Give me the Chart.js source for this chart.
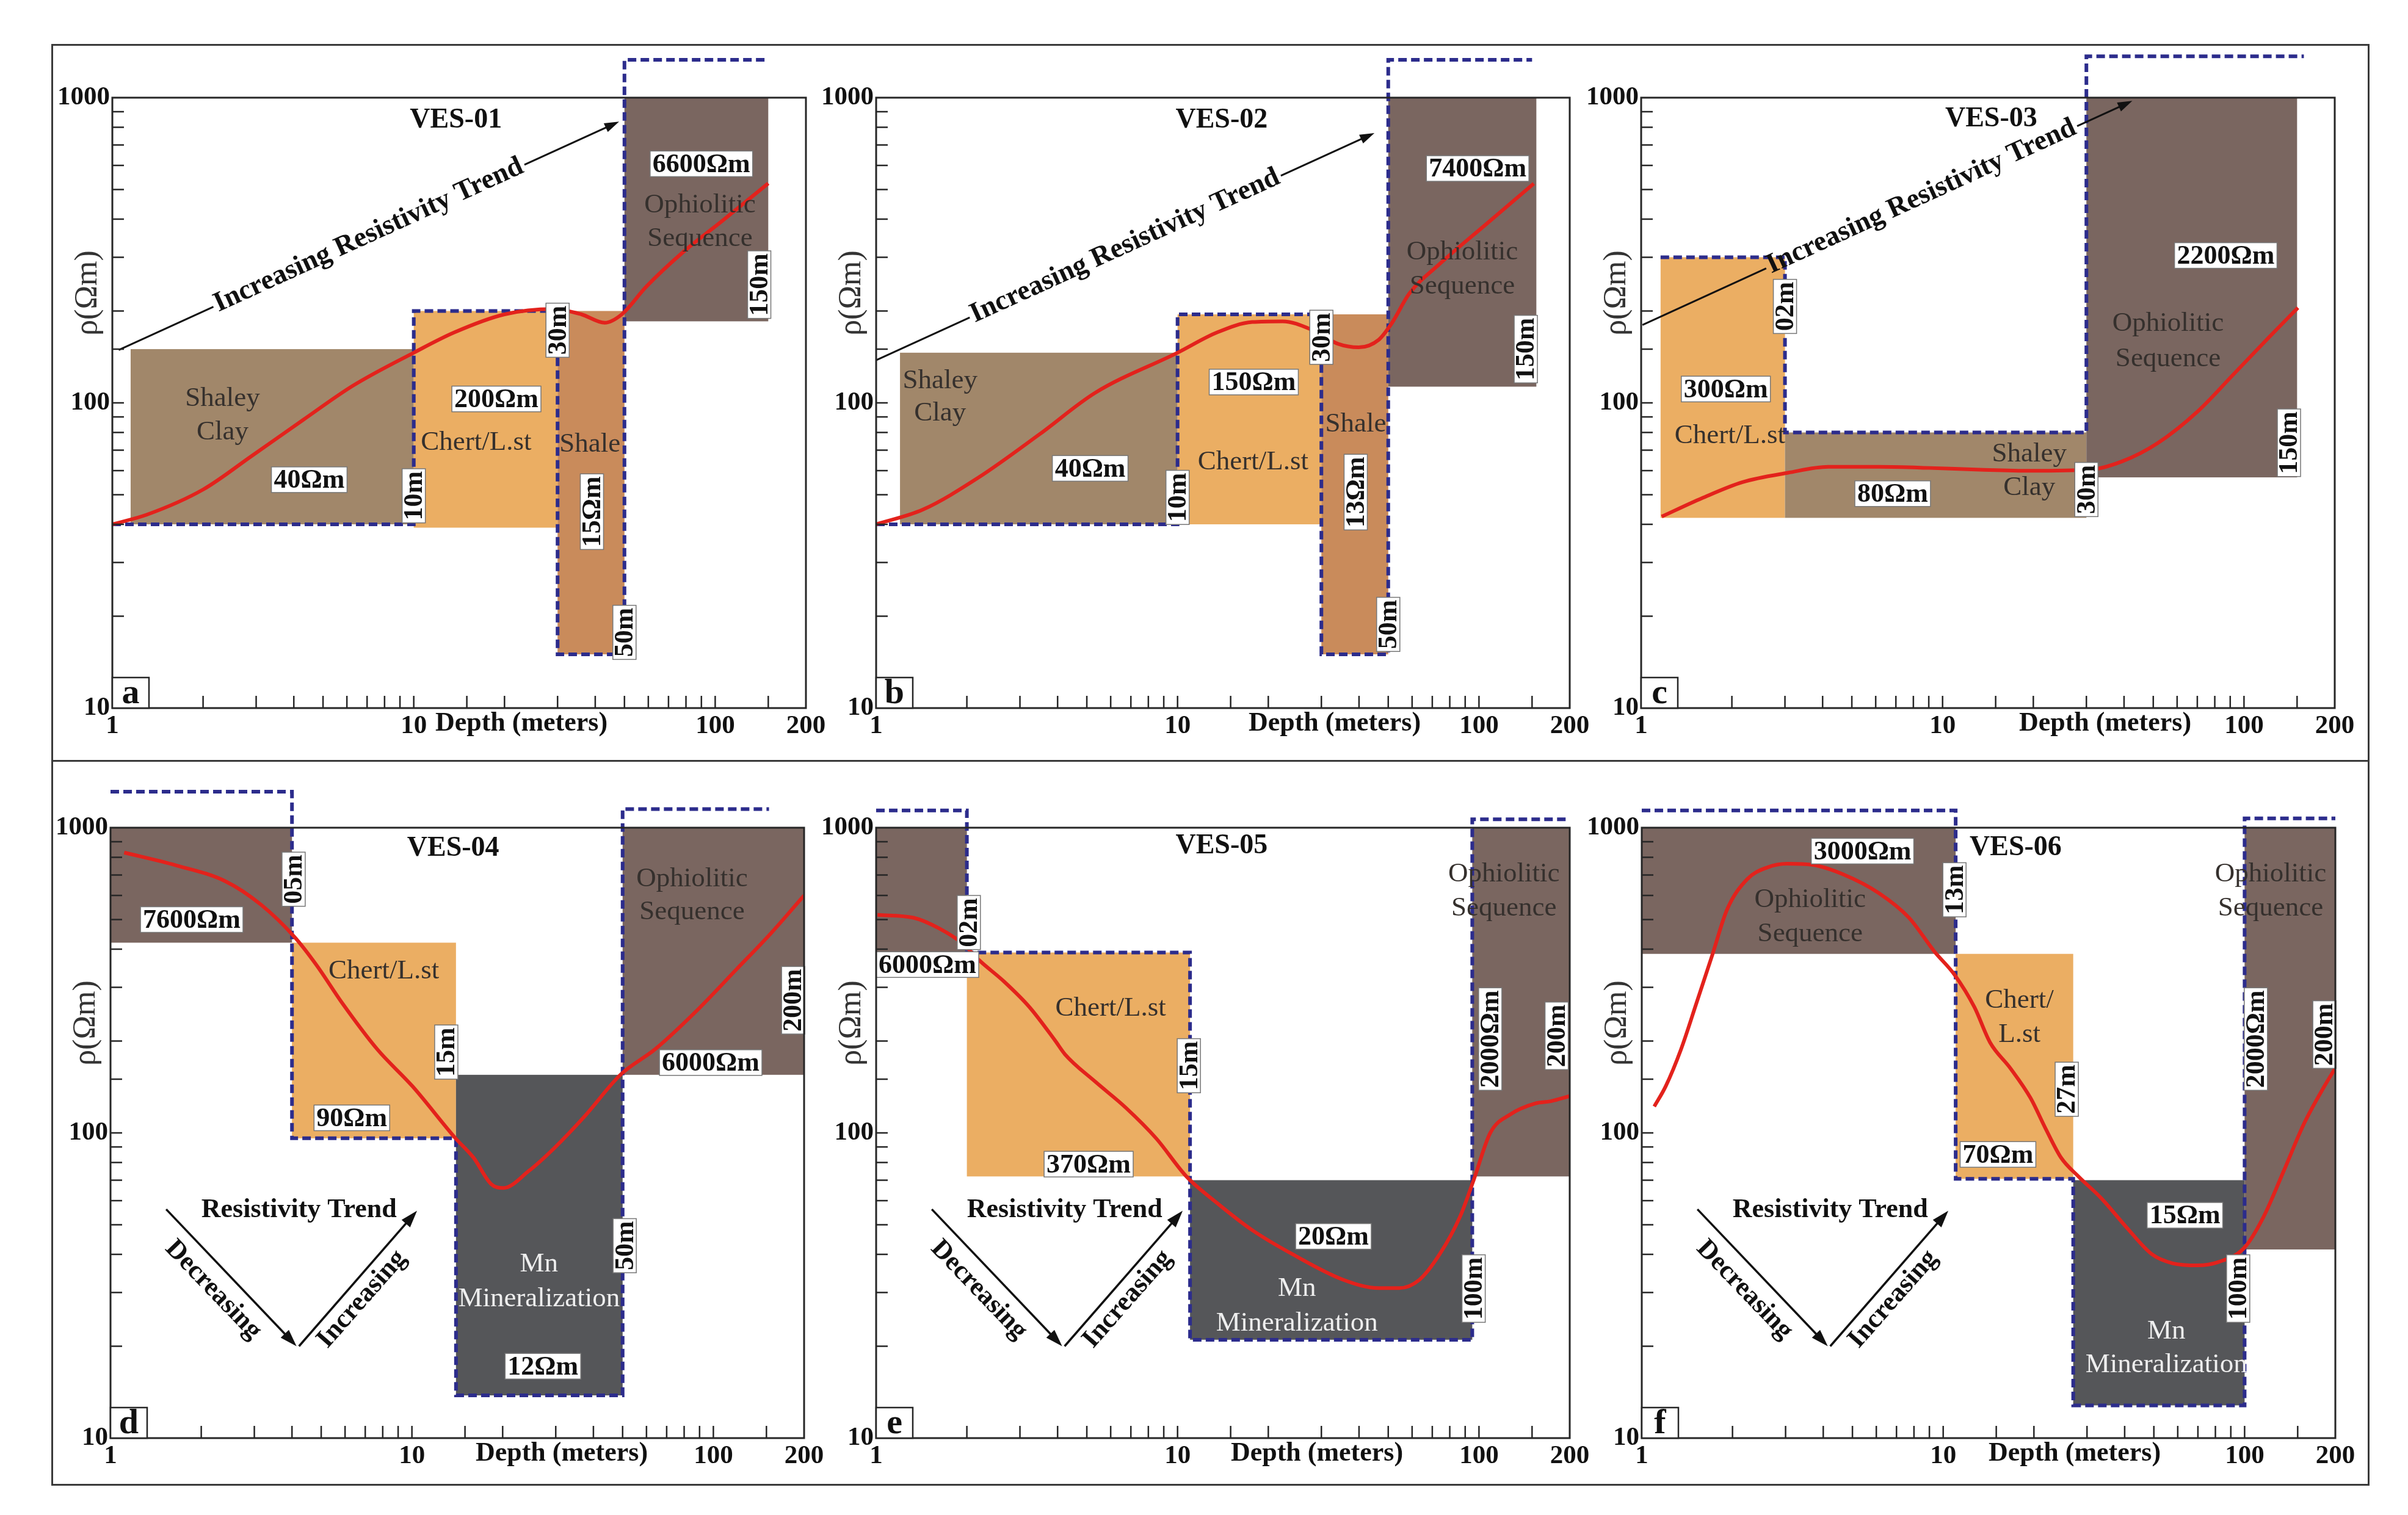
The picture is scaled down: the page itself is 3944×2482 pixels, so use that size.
<!DOCTYPE html>
<html>
<head>
<meta charset="utf-8">
<script src="https://cdn.jsdelivr.net/npm/chart.js@4.4.1/dist/chart.umd.min.js"></script>
<style>
  body { margin: 0; background: #fff; width: 3944px; height: 2482px; position: relative; overflow: hidden; }
  .frame { position: absolute; left: 84px; top: 72px; width: 3797px; height: 2362px; border: 3px solid #3a3a3a; box-sizing: border-box; }
  .sep { position: absolute; left: 84px; top: 1245px; width: 3797px; height: 3px; background: #3a3a3a; }
  .panel { position: absolute; }
</style>
</head>
<body>
<div class="frame"></div>
<div class="sep"></div>
<div class="panel" id="pa"><canvas></canvas></div>
<div class="panel" id="pb"><canvas></canvas></div>
<div class="panel" id="pc"><canvas></canvas></div>
<div class="panel" id="pd"><canvas></canvas></div>
<div class="panel" id="pe"><canvas></canvas></div>
<div class="panel" id="pf"><canvas></canvas></div>
<script>
// axis ticks
const depthTicks = [1, 10, 100, 200];
const rhoTicks = [10, 100, 1000];

// layers: [depth from, depth to, rho low, rho high, kind]
// VES-01
const ves01Depth = [1, 1.3, 2, 2.9, 4.3, 6.3, 10, 13.6, 20, 29, 36, 43, 49, 59, 78, 106, 150];
const ves01Rho = [40, 43, 52, 67, 88, 114, 146, 170, 195, 203, 195, 183, 195, 240, 311, 396, 524];
const ves01Layers = [[1.15, 10, 40, 150, 'clay'], [10, 30, 39, 200, 'chert'], [30, 50, 15, 200, 'shale'], [50, 150, 185, 1000, 'ophio']];
const ves01Bound = [[1, 40], [10, 40], [10, 200], [30, 200], [30, 15], [50, 15], [50, 1330], [150, 1330]];

// VES-02
const ves02Depth = [1, 1.43, 2.19, 3.49, 5.34, 10, 13.5, 17.7, 22.3, 28.1, 34.1, 39.9, 46.5, 51.3, 58.7, 74, 105, 152];
const ves02Rho = [40, 44.7, 57, 79, 108, 146, 170, 184, 185, 173, 156, 152, 161, 182, 228, 285, 383, 523];
const ves02Layers = [[1.2, 10, 40, 146, 'clay'], [10, 30, 40, 195, 'chert'], [30, 50, 15, 195, 'shale'], [50, 155, 113, 1000, 'ophio']];
const ves02Bound = [[1, 40], [10, 40], [10, 195], [30, 195], [30, 15], [50, 15], [50, 1330], [150, 1330]];

// VES-03
const ves03Depth = [1.17, 1.59, 2.17, 3.07, 4.18, 6.16, 9.06, 13.3, 19.6, 30.7, 39.4, 51.7, 70.4, 92.3, 121, 151];
const ves03Rho = [42.4, 48.7, 55, 59, 61.7, 61.7, 61.2, 60.4, 59.9, 60.4, 64.3, 73.8, 94, 124, 164, 205];
const ves03Layers = [[1.16, 3, 42, 300, 'chert'], [3, 30, 42, 80, 'clay'], [30, 150, 57, 1000, 'ophio']];
const ves03Bound = [[1.16, 300], [3, 300], [3, 80], [30, 80], [30, 1366], [158, 1366]];

// VES-04
const ves04Depth = [1.11, 1.64, 2.41, 3.16, 4.09, 4.83, 5.86, 7.67, 10.05, 13.95, 16, 18.3, 20.1, 24.4, 29.6, 37.3, 49.5, 64.1, 87.2, 118.8, 155.6, 200];
const ves04Rho = [829, 754, 667, 559, 437, 354, 267, 188, 142, 96, 83, 68, 66, 75, 89, 113, 156, 188, 249, 342, 452, 600];
const ves04Layers = [[1, 4, 420, 1000, 'ophio'], [4, 14, 96, 420, 'chert'], [14, 50, 13.8, 155, 'mn'], [50, 200, 155, 1000, 'ophio']];
const ves04Bound = [[1, 1312], [4, 1312], [4, 96], [14, 96], [14, 13.8], [50, 13.8], [50, 1151], [153, 1151]];

// VES-05
const ves05Depth = [1.01, 1.33, 1.61, 1.95, 2.19, 2.66, 3.23, 3.92, 4.23, 5.34, 6.73, 8.49, 10.7, 13.5, 17.7, 24.1, 35.5, 46.5, 54.3, 63.4, 74, 86.4, 96, 109, 127, 154, 173, 200];
const ves05Rho = [518, 507, 469, 415, 369, 313, 258, 201, 181, 147, 121, 96, 72, 59, 48, 40, 33, 31, 31, 33, 40, 53, 70, 100, 115, 125, 127, 132];
const ves05Layers = [[1, 2, 390, 1000, 'ophio'], [2, 11, 72, 390, 'chert'], [11, 95, 21, 70, 'mn'], [95, 200, 72, 1000, 'ophio']];
const ves05Bound = [[1, 1139], [2, 1139], [2, 390], [11, 390], [11, 21], [95, 21], [95, 1065], [200, 1065]];

// VES-06
const ves06Depth = [1.1, 1.2, 1.35, 1.52, 1.71, 1.92, 2.24, 2.61, 3.04, 3.7, 4.66, 6.11, 7.7, 9.35, 10.9, 12.7, 14.3, 16.7, 19.5, 21.9, 24.6, 28.1, 33.5, 40.6, 49.3, 57.6, 69.8, 81.5, 99.7, 115.5, 134.8, 157.3, 183.8, 200];
const ves06Rho = [122, 142, 188, 267, 380, 540, 679, 741, 762, 755, 703, 611, 507, 393, 330, 258, 198, 163, 130, 103, 83, 72, 61, 49, 40, 37.4, 36.8, 37.7, 42, 53, 75, 107, 142, 163];
const ves06Layers = [[1, 11, 386, 1000, 'ophio'], [11, 27, 70.7, 386, 'chert'], [27, 100, 12.8, 70, 'mn'], [100, 200, 41.5, 1000, 'ophio']];
const ves06Bound = [[1, 1139], [11, 1139], [11, 70.7], [27, 70.7], [27, 12.8], [100, 12.8], [100, 1073], [200, 1073]];

// annotations: [text, depth, rho, kind]
const ves01Notes = [
  ['VES-01', 13.8, 841, 'title'], ['6600Ωm', 90, 607, 'val'], ['Ophiolitic', 89, 444, 'name'], ['Sequence', 89, 345, 'name'],
  ['150m', 140, 244, 'vert'], ['Shaley', 2.32, 103, 'name'], ['Clay', 2.32, 80, 'name'], ['40Ωm', 4.5, 56, 'val'],
  ['10m', 10, 49.6, 'vert'], ['200Ωm', 18.8, 103, 'val'], ['Chert/L.st', 16.1, 74, 'name'], ['30m', 30, 173, 'vert'],
  ['Shale', 38.4, 73, 'name'], ['15Ωm', 39, 44, 'vert'], ['50m', 50, 17.7, 'vert']
];
const ves02Notes = [
  ['VES-02', 14, 841, 'title'], ['7400Ωm', 99, 586, 'val'], ['Ophiolitic', 88, 311, 'name'], ['Sequence', 88, 241, 'name'],
  ['150m', 143, 150, 'vert'], ['Shaley', 1.63, 118, 'name'], ['Clay', 1.63, 92.5, 'name'], ['40Ωm', 5.13, 61, 'val'],
  ['10m', 10, 49, 'vert'], ['150Ωm', 17.9, 117, 'val'], ['Chert/L.st', 17.8, 64, 'name'], ['30m', 30, 164, 'vert'],
  ['Shale', 39, 85, 'name'], ['13Ωm', 39, 51, 'vert'], ['50m', 50, 18.8, 'vert']
];
const ves03Notes = [
  ['VES-03', 14.5, 850, 'title'], ['2200Ωm', 87, 304, 'val'], ['Ophiolitic', 56, 182, 'name'], ['Sequence', 56, 139, 'name'],
  ['150m', 141, 74, 'vert'], ['300Ωm', 1.91, 111, 'val'], ['Chert/L.st', 1.97, 78, 'name'], ['02m', 3, 207, 'vert'],
  ['80Ωm', 6.83, 50.4, 'val'], ['Shaley', 19.4, 68, 'name'], ['Clay', 19.4, 52.6, 'name'], ['30m', 30, 52, 'vert']
];
const ves04Notes = [
  ['VES-04', 13.7, 853, 'title'], ['7600Ωm', 1.86, 500, 'val'], ['05m', 4.05, 678, 'vert'], ['Chert/L.st', 8.07, 338, 'name'],
  ['15m', 13, 184, 'vert'], ['90Ωm', 6.32, 112, 'val'], ['Ophiolitic', 85, 678, 'name'], ['Sequence', 85, 530, 'name'],
  ['200m', 184, 272, 'vert'], ['6000Ωm', 98, 170, 'val'], ['50m', 50.8, 42.7, 'vert'], ['Mn', 26.4, 37.1, 'nameW'],
  ['Mineralization', 26.4, 28.5, 'nameW'], ['12Ωm', 27.2, 17.2, 'val']
];
const ves05Notes = [
  ['VES-05', 14, 869, 'title'], ['6000Ωm', 1.48, 356, 'val'], ['02m', 2.03, 489, 'vert'], ['Chert/L.st', 6, 256, 'name'],
  ['15m', 10.9, 166, 'vert'], ['370Ωm', 5.07, 79, 'val'], ['Ophiolitic', 121, 703, 'name'], ['Sequence', 121, 543, 'name'],
  ['2000Ωm', 109, 203, 'vert'], ['200m', 181, 208, 'vert'], ['20Ωm', 32.9, 45.8, 'val'], ['Mn', 24.9, 30.9, 'nameW'],
  ['Mineralization', 24.9, 23.7, 'nameW'], ['100m', 96, 30.9, 'vert']
];
const ves06Notes = [
  ['VES-06', 17.4, 859, 'title'], ['3000Ωm', 5.4, 838, 'val'], ['Ophiolitic', 3.62, 579, 'name'], ['Sequence', 3.62, 448, 'name'],
  ['13m', 10.9, 626, 'vert'], ['Chert/', 17.9, 272, 'name'], ['L.st', 17.9, 210, 'name'], ['27m', 25.7, 139, 'vert'],
  ['70Ωm', 15.2, 85, 'val'], ['15Ωm', 63.4, 53.7, 'val'], ['100m', 95.2, 30.9, 'vert'], ['Mn', 55, 22.4, 'nameW'],
  ['Mineralization', 55, 17.4, 'nameW'], ['Ophiolitic', 122, 703, 'name'], ['Sequence', 122, 543, 'name'],
  ['2000Ωm', 109, 203, 'vert'], ['200m', 184, 210, 'vert']
];

// "Increasing Resistivity Trend" arrows (top row): [from, to]
const ves01Trend = [[1.05, 149], [48, 835]];
const ves02Trend = [[1, 138], [45, 766]];
const ves03Trend = [[1.01, 180], [42.6, 976]];
// V-shaped "Resistivity Trend" (bottom row): start, tip, end
const vTrend = [[1.53, 56.2], [4.18, 20], [10.4, 55.6]];
const vNotes = [['Resistivity Trend', 4.22, 55.7], ['Decreasing', 2.19, 30.6], ['Increasing', 6.83, 28.5]];

const FILL = { clay: '#a1876a', chert: '#ebae63', shale: '#c98b5b', ophio: '#7a6660', mn: '#555659' };
const PADL = 150, PADT = 120, PADR = 60, PADB = 90, PW = 1136, PH = 1000;
const SERIF = '"Liberation Serif", "Times New Roman", serif';

Chart.defaults.font.family = SERIF;

const panels = [
  { id: 'pa', tag: 'a', left: 184, top: 160, depth: ves01Depth, rho: ves01Rho, layers: ves01Layers, bound: ves01Bound, notes: ves01Notes, trend: ves01Trend, t: 0.5, xTitle: 670 },
  { id: 'pb', tag: 'b', left: 1435, top: 160, depth: ves02Depth, rho: ves02Rho, layers: ves02Layers, bound: ves02Bound, notes: ves02Notes, trend: ves02Trend, t: 0.5, xTitle: 751 },
  { id: 'pc', tag: 'c', left: 2688, top: 160, depth: ves03Depth, rho: ves03Rho, layers: ves03Layers, bound: ves03Bound, notes: ves03Notes, trend: ves03Trend, t: 0.57, xTitle: 760 },
  { id: 'pd', tag: 'd', left: 181, top: 1356, depth: ves04Depth, rho: ves04Rho, layers: ves04Layers, bound: ves04Bound, notes: ves04Notes, xTitle: 739 },
  { id: 'pe', tag: 'e', left: 1435, top: 1356, depth: ves05Depth, rho: ves05Rho, layers: ves05Layers, bound: ves05Bound, notes: ves05Notes, xTitle: 722 },
  { id: 'pf', tag: 'f', left: 2689, top: 1356, depth: ves06Depth, rho: ves06Rho, layers: ves06Layers, bound: ves06Bound, notes: ves06Notes, xTitle: 709 }
];

function tickLabel(v, list) {
  return list.some(t => Math.abs(t - v) / t < 1e-6) ? String(Math.round(v)) : '';
}

function arrowLine(ctx, x0, y0, x1, y1, head) {
  const a = Math.atan2(y1 - y0, x1 - x0);
  ctx.beginPath();
  ctx.moveTo(x0, y0);
  ctx.lineTo(x1 - Math.cos(a) * head * 0.6, y1 - Math.sin(a) * head * 0.6);
  ctx.stroke();
  ctx.beginPath();
  ctx.moveTo(x1, y1);
  ctx.lineTo(x1 - head * Math.cos(a) + head * 0.33 * Math.sin(a), y1 - head * Math.sin(a) - head * 0.33 * Math.cos(a));
  ctx.lineTo(x1 - head * Math.cos(a) - head * 0.33 * Math.sin(a), y1 - head * Math.sin(a) + head * 0.33 * Math.cos(a));
  ctx.closePath();
  ctx.fill();
}

function drawNote(ctx, text, x, y, kind) {
  ctx.save();
  ctx.translate(x, y);
  ctx.textAlign = 'center';
  ctx.textBaseline = 'middle';
  if (kind === 'val' || kind === 'vert') {
    if (kind === 'vert') ctx.rotate(-Math.PI / 2);
    ctx.font = 'bold 44px ' + SERIF;
    const w = ctx.measureText(text).width + 8, h = kind === 'vert' ? 38 : 42;
    ctx.fillStyle = '#fff';
    ctx.fillRect(-w / 2, -h / 2, w, h);
    ctx.strokeStyle = '#777';
    ctx.lineWidth = 1.5;
    ctx.strokeRect(-w / 2, -h / 2, w, h);
    ctx.fillStyle = '#111';
    ctx.fillText(text, 0, 2);
  } else if (kind === 'title') {
    ctx.font = 'bold 46px ' + SERIF;
    ctx.fillStyle = '#111';
    ctx.fillText(text, 0, 0);
  } else {
    ctx.font = '45px ' + SERIF;
    ctx.fillStyle = kind === 'nameW' ? '#eeeeee' : '#35302d';
    ctx.fillText(text, 0, 0);
  }
  ctx.restore();
}

function panelPlugin(p) {
  return {
    id: 'layers' + p.tag,
    beforeDatasetsDraw(chart) {
      const { ctx, scales: { x, y } } = chart;
      ctx.save();
      p.layers.forEach(([d0, d1, r0, r1, kind]) => {
        const x0 = x.getPixelForValue(d0), x1 = x.getPixelForValue(d1);
        const y0 = y.getPixelForValue(r0), y1 = y.getPixelForValue(r1);
        ctx.fillStyle = FILL[kind];
        ctx.fillRect(x0, y1, x1 - x0, y0 - y1);
      });
      ctx.restore();
    },
    afterDatasetsDraw(chart) {
      const { ctx, chartArea: a, scales: { x, y } } = chart;
      const px = v => x.getPixelForValue(v), py = v => y.getPixelForValue(v);
      ctx.save();

      p.notes.forEach(([text, d, r, kind]) => drawNote(ctx, text, px(d), py(r), kind));

      ctx.strokeStyle = '#111';
      ctx.fillStyle = '#111';
      ctx.lineWidth = 3;
      if (p.trend) {
        const [p0, p1] = p.trend.map(([d, r]) => [px(d), py(r)]);
        const dx = p1[0] - p0[0], dy = p1[1] - p0[1], len = Math.hypot(dx, dy);
        const ux = dx / len, uy = dy / len;
        const cx = p0[0] + dx * p.t, cy = p0[1] + dy * p.t;
        const text = 'Increasing Resistivity Trend';
        ctx.font = 'bold 46px ' + SERIF;
        const half = ctx.measureText(text).width / 2 + 4;
        ctx.beginPath();
        ctx.moveTo(p0[0], p0[1]);
        ctx.lineTo(cx - ux * half, cy - uy * half);
        ctx.stroke();
        arrowLine(ctx, cx + ux * half, cy + uy * half, p1[0], p1[1], 24);
        ctx.save();
        ctx.translate(cx, cy);
        ctx.rotate(Math.atan2(dy, dx));
        ctx.textAlign = 'center';
        ctx.textBaseline = 'alphabetic';
        ctx.fillText(text, 0, 11);
        ctx.restore();
      } else {
        const [s, m, e] = vTrend.map(([d, r]) => [px(d), py(r)]);
        ctx.lineWidth = 3.5;
        arrowLine(ctx, s[0], s[1], m[0] - 2, m[1], 28);
        arrowLine(ctx, m[0] + 2, m[1], e[0], e[1], 28);
        const angs = [0, Math.atan2(m[1] - s[1], m[0] - s[0]), Math.atan2(e[1] - m[1], e[0] - m[0])];
        ctx.font = 'bold 44px ' + SERIF;
        ctx.textAlign = 'center';
        ctx.textBaseline = 'middle';
        vNotes.forEach(([text, d, r], i) => {
          ctx.save();
          ctx.translate(px(d), py(r));
          ctx.rotate(angs[i]);
          ctx.fillText(text, 0, 0);
          ctx.restore();
        });
      }

      // plot frame and inner tick marks
      ctx.strokeStyle = '#262626';
      ctx.lineWidth = 3;
      ctx.strokeRect(a.left, a.top, a.right - a.left, a.bottom - a.top);
      ctx.lineWidth = 2.5;
      ctx.beginPath();
      x.ticks.forEach(t => {
        if (t.value > 1.001 && t.value < 199) {
          const X = px(t.value);
          ctx.moveTo(X, a.bottom);
          ctx.lineTo(X, a.bottom - 20);
        }
      });
      y.ticks.forEach(t => {
        if (t.value > 10.01 && t.value < 999) {
          const Y = py(t.value);
          ctx.moveTo(a.left, Y);
          ctx.lineTo(a.left + 19, Y);
        }
      });
      ctx.stroke();

      // axis titles
      ctx.fillStyle = '#111';
      ctx.font = 'bold 44px ' + SERIF;
      ctx.textAlign = 'center';
      ctx.textBaseline = 'top';
      ctx.fillText('Depth (meters)', a.left + p.xTitle, a.bottom + 4);
      ctx.save();
      ctx.translate(a.left - 40, a.top + 320);
      ctx.rotate(-Math.PI / 2);
      ctx.font = '52px ' + SERIF;
      ctx.fillStyle = '#333';
      ctx.textBaseline = 'middle';
      ctx.fillText('ρ(Ωm)', 0, 0);
      ctx.restore();

      // panel letter
      ctx.fillStyle = '#fff';
      ctx.fillRect(a.left, a.bottom - 50, 60, 50);
      ctx.strokeStyle = '#262626';
      ctx.lineWidth = 2.5;
      ctx.strokeRect(a.left, a.bottom - 50, 60, 50);
      ctx.fillStyle = '#111';
      ctx.font = 'bold 58px ' + SERIF;
      ctx.textBaseline = 'alphabetic';
      ctx.fillText(p.tag, a.left + 30, a.bottom - 8);
      ctx.restore();
    }
  };
}

panels.forEach(p => {
  const box = document.getElementById(p.id);
  box.style.left = (p.left - PADL) + 'px';
  box.style.top = (p.top - PADT) + 'px';
  const canvas = box.querySelector('canvas');
  canvas.width = PADL + PW + PADR;
  canvas.height = PADT + PH + PADB;

  new Chart(canvas, {
    type: 'line',
    data: {
      datasets: [
        {
          data: p.depth.map((d, i) => ({ x: d, y: p.rho[i] })),
          borderColor: '#e3221c',
          borderWidth: 6,
          pointRadius: 0,
          cubicInterpolationMode: 'monotone',
          fill: false,
        },
        {
          data: p.bound.map(([d, r]) => ({ x: d, y: r })),
          borderColor: '#2c2c8c',
          borderWidth: 6,
          borderDash: [14, 7],
          pointRadius: 0,
          tension: 0,
          clip: false,
          fill: false,
        },
      ],
    },
    options: {
      responsive: false,
      animation: false,
      events: [],
      layout: { padding: { top: PADT, right: PADR, left: 0, bottom: 0 } },
      scales: {
        x: {
          type: 'logarithmic',
          min: 1,
          max: 200,
          grid: { display: false, drawTicks: false },
          border: { display: false },
          ticks: {
            autoSkip: false,
            maxRotation: 0,
            padding: 4,
            color: '#111',
            font: { size: 43, weight: 'bold' },
            callback: v => tickLabel(v, depthTicks),
          },
          afterFit: s => { s.height = PADB; },
        },
        y: {
          type: 'logarithmic',
          min: 10,
          max: 1000,
          grid: { display: false, drawTicks: false },
          border: { display: false },
          ticks: {
            autoSkip: false,
            padding: 4,
            color: '#111',
            font: { size: 43, weight: 'bold' },
            callback: v => tickLabel(v, rhoTicks),
          },
          afterFit: s => { s.width = PADL; },
        },
      },
      plugins: {
        legend: { display: false },
        tooltip: { enabled: false },
      },
    },
    plugins: [panelPlugin(p)],
  });
});
</script>
</body>
</html>
